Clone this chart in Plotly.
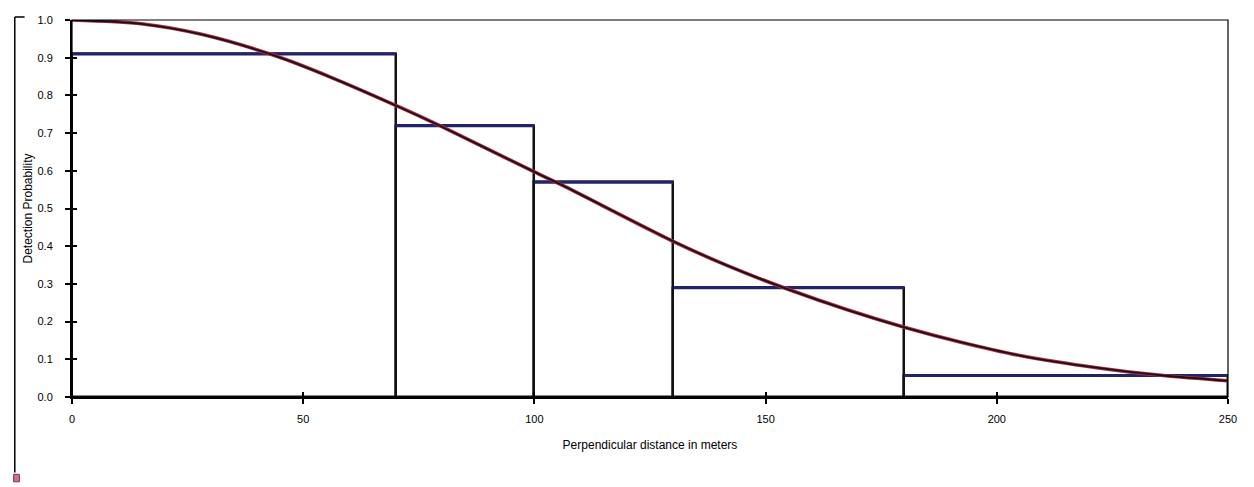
import plotly.graph_objects as go

# Histogram bins (perpendicular distance, m) and observed detection probabilities
bin_edges = [0, 70, 100, 130, 180, 250]
bin_values = [0.91, 0.72, 0.57, 0.29, 0.057]

# Fitted detection function
curve_x = [0, 15, 28, 44, 56, 71, 80, 100, 106, 130, 142, 155, 168, 180, 192, 205, 222, 236, 250]
curve_y = [1.0, 0.99, 0.962, 0.905, 0.848, 0.768, 0.717, 0.597, 0.562, 0.413, 0.347, 0.285,
           0.230, 0.185, 0.146, 0.110, 0.077, 0.057, 0.043]

x_title = "Perpendicular distance in meters"
y_title = "Detection Probability"

centers = [(bin_edges[i] + bin_edges[i + 1]) / 2 for i in range(len(bin_values))]
widths = [bin_edges[i + 1] - bin_edges[i] for i in range(len(bin_values))]

top_x, top_y = [], []
for i, v in enumerate(bin_values):
    top_x += [bin_edges[i], bin_edges[i + 1], None]
    top_y += [v, v, None]

FONT = "Liberation Sans, Arial, sans-serif"

fig = go.Figure()
fig.add_trace(go.Bar(
    x=centers, y=bin_values, width=widths,
    marker=dict(color="rgba(0,0,0,0)", line=dict(color="#111111", width=2.5)),
    showlegend=False, hoverinfo="skip",
))
fig.add_trace(go.Scatter(
    x=top_x, y=top_y, mode="lines",
    line=dict(color="#23236b", width=3.2), showlegend=False, hoverinfo="skip",
))
fig.add_trace(go.Scatter(
    x=curve_x, y=curve_y, mode="lines", line_shape="spline",
    line=dict(color="#b02a44", width=3.6, smoothing=0.8), showlegend=False,
))
fig.add_trace(go.Scatter(
    x=curve_x, y=curve_y, mode="lines", line_shape="spline",
    line=dict(color="#1a1214", width=1.8, smoothing=0.8), showlegend=False,
))
# helper trace so the overlay axes (inner half of the crossing ticks) are drawn
fig.add_trace(go.Scatter(x=[None], y=[None], xaxis="x2", yaxis="y2",
                         mode="markers", showlegend=False, hoverinfo="skip"))

fig.update_layout(
    width=1254, height=487,
    margin=dict(l=72, r=26, t=20, b=90),
    paper_bgcolor="white", plot_bgcolor="white",
    font=dict(family=FONT, color="black", size=11),
    bargap=0,
    xaxis=dict(
        range=[0, 250], dtick=50, tick0=0, showgrid=False, zeroline=False,
        showline=True, linecolor="black", linewidth=2,
        ticks="outside", ticklen=5, tickwidth=1.5, tickcolor="black",
        tickfont=dict(size=11, family=FONT, color="black"),
        ticklabelstandoff=6,
        title=dict(text=x_title, font=dict(size=12, family=FONT), standoff=16),
    ),
    yaxis=dict(
        range=[0, 1], dtick=0.1, tick0=0, tickformat=".1f", showgrid=False, zeroline=False,
        showline=True, linecolor="black", linewidth=2,
        ticks="outside", ticklen=5, tickwidth=1.5, tickcolor="black",
        tickfont=dict(size=11, family=FONT, color="black"),
        ticklabelstandoff=10,
        title=dict(text=y_title, font=dict(size=12, family=FONT), standoff=2),
    ),
    xaxis2=dict(range=[0, 250], dtick=50, tick0=0, overlaying="x", showgrid=False,
                zeroline=False, showline=False, showticklabels=False,
                ticks="inside", ticklen=5, tickwidth=1.5, tickcolor="black", side="bottom"),
    yaxis2=dict(range=[0, 1], dtick=0.1, tick0=0, overlaying="y", showgrid=False,
                zeroline=False, showline=False, showticklabels=False,
                ticks="inside", ticklen=5, tickwidth=1.5, tickcolor="black", side="left"),
    shapes=[
        # plot-area frame (top and right edges)
        dict(type="rect", xref="paper", yref="paper", x0=0, x1=1, y0=0, y1=1,
             line=dict(color="black", width=1.2), layer="above"),
        # remnants of the outer chart border on the left
        dict(type="line", xref="paper", yref="paper", x0=-0.0495, x1=-0.0495, y0=1.008,
             y1=-0.2, line=dict(color="black", width=1.5)),
        dict(type="line", xref="paper", yref="paper", x0=-0.0495, x1=-0.041, y0=1.008,
             y1=1.008, line=dict(color="black", width=1.5)),
        # legend marker fragment
        dict(type="rect", xref="paper", yref="paper", x0=-0.0505, x1=-0.0455, y0=-0.225,
             y1=-0.205, line=dict(color="#8a3050", width=1), fillcolor="#d07090"),
    ],
)

fig.write_html("out.html")
